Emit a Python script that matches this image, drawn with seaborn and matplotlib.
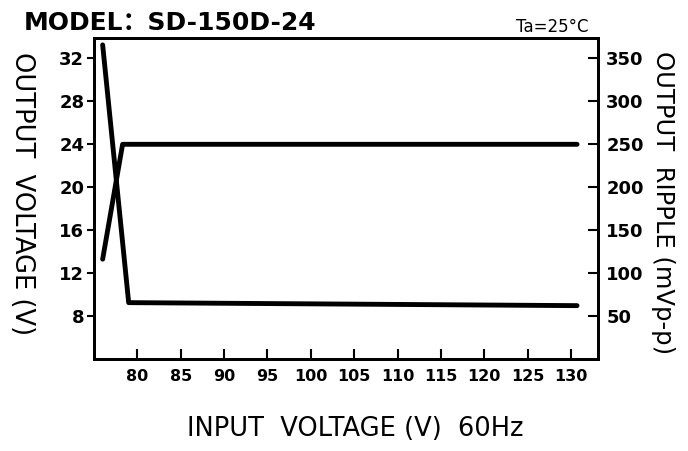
import matplotlib
matplotlib.use('Agg')
import matplotlib.pyplot as plt
import seaborn as sns
import pandas as pd

# readings (input voltage in V)
volt_in = [76.0, 78.3, 130.7]
volt_out = [13.3, 24.0, 24.0]
ripple_in = [76.0, 79.0, 130.7]
ripple_mv = [365, 65.5, 62]

x_ticks = [80, 85, 90, 95, 100, 105, 110, 115, 120, 125, 130]
left_ticks = [8, 12, 16, 20, 24, 28, 32]
right_ticks = [50, 100, 150, 200, 250, 300, 350]

sns.set_style('ticks')
plt.rcParams['font.family'] = ['DejaVu Sans', 'Noto Sans CJK SC']
plt.rcParams['font.weight'] = 'bold'
plt.rcParams['text.color'] = 'black'
plt.rcParams['xtick.color'] = 'black'
plt.rcParams['ytick.color'] = 'black'
plt.rcParams['xtick.labelcolor'] = 'black'
plt.rcParams['ytick.labelcolor'] = 'black'

fig = plt.figure(figsize=(6.88, 4.51), dpi=100)
ax = fig.add_axes([0.1366, 0.204, 0.869 - 0.1366, 0.9157 - 0.204])
ax2 = ax.twinx()

df_v = pd.DataFrame({'vin': volt_in, 'vout': volt_out})
df_r = pd.DataFrame({'vin': ripple_in, 'ripple': ripple_mv})
sns.lineplot(data=df_v, x='vin', y='vout', ax=ax, color='black', lw=3.5)
sns.lineplot(data=df_r, x='vin', y='ripple', ax=ax2, color='black', lw=3.5)

ax.set_xlim(75, 133.1)
ax.set_ylim(4, 33.9)
ax2.set_ylim(0, 373)
ax.set_xticks(x_ticks)
ax.set_yticks(left_ticks)
ax2.set_yticks(right_ticks)

for a in (ax, ax2):
    for s in a.spines.values():
        s.set_linewidth(2)
        s.set_color('black')
        s.set_visible(True)
ax.tick_params(axis='y', direction='out', length=5, width=1.5, labelsize=13, pad=2)
ax.tick_params(axis='x', direction='in', length=7, width=1.5, labelsize=11.5, pad=7)
ax2.tick_params(axis='y', direction='in', length=7, width=1.5, labelsize=13, pad=6)

ax.set_xlabel('')
ax.set_ylabel('')
ax2.set_ylabel('')

fig.text(0.035, 0.975, 'MODEL：SD-150D-24', fontsize=18, ha='left', va='top',
         fontweight='semibold', fontstretch='expanded')
fig.text(0.855, 0.96, 'Ta=25°C', fontsize=12, ha='right', va='top', fontweight='normal')
fig.text(0.516, 0.02, 'INPUT  VOLTAGE (V)  60Hz', fontsize=18.5, ha='center', va='bottom', fontweight='normal')
fig.text(0.032, 0.57, 'OUTPUT  VOLTAGE (V)', fontsize=18.5, rotation=-90, ha='center', va='center', fontweight='normal')
fig.text(0.963, 0.55, 'OUTPUT  RIPPLE (mVp-p)', fontsize=17.5, rotation=-90, ha='center', va='center', fontweight='normal')

fig.savefig('out.png', dpi=100)
